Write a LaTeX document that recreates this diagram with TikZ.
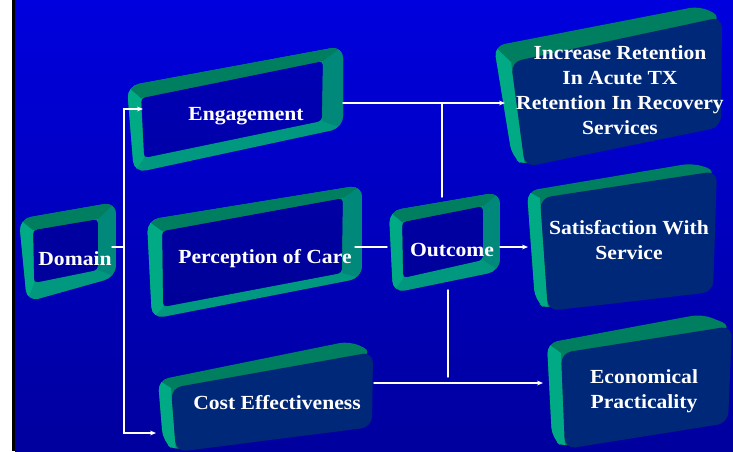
\documentclass[tikz,border=0pt]{standalone}
\usepackage{fontspec}
\setmainfont{Liberation Serif}[FakeStretch=1.08]
\usetikzlibrary{arrows.meta,calc}

\definecolor{bgtop}{RGB}{0,0,222}
\definecolor{bgbot}{RGB}{0,0,158}
\definecolor{rimbase}{RGB}{0,152,126}
\definecolor{rimdark}{RGB}{0,126,96}
\definecolor{rimlight}{RGB}{0,170,132}
\definecolor{rimside}{RGB}{0,136,122}
\definecolor{slabface}{RGB}{0,40,120}

% hollow frame: outer TL, TR, BR, BL, then inner TL, TR, BR, BL
\newcommand{\hollowbox}[8]{%
  \begin{scope}
    \clip[rounded corners=9pt] (#1) -- (#2) -- (#3) -- (#4) -- cycle;
    \fill[rimbase,even odd rule] (#1) -- (#2) -- (#3) -- (#4) -- cycle
      [rounded corners=3pt] (#5) -- (#6) -- (#7) -- (#8) -- cycle;
    \fill[rimside] (#2) -- (#3) -- (#7) -- (#6) -- cycle;
    \fill[rimlight] (#1) -- (#5) -- (#8) -- (#4) -- cycle;
    \fill[rimdark] (#1) -- (#2) -- (#6) -- (#5) -- cycle;
  \end{scope}
  \fill[black,opacity=0.15,rounded corners=3pt] (#5) -- (#6) -- (#7) -- (#8) -- cycle;
}
% solid slab: rim TL, rim TR, then face TL, TR, BR, BL
\newcommand{\slabbox}[6]{%
  \begin{scope}
    \clip[rounded corners=8pt] (#1) -- (#2) -- (#4) -- (#6) -- ($(#6)+(-13,-11)$) -- cycle;
    \fill[rimdark] (#1) -- (#2) -- (#4) -- (#6) -- ($(#6)+(-13,-11)$) -- cycle;
    \fill[rimlight] (#1) -- (#3) -- (#6) -- ($(#6)+(-13,-11)$) -- cycle;
  \end{scope}
  \fill[slabface,rounded corners=8pt] (#3) -- (#4) -- (#5) -- (#6) -- cycle;
}

\begin{document}
\begin{tikzpicture}[x=0.75pt,y=-0.75pt,>={Stealth[length=4.5pt,width=3.6pt]},line cap=round,
  wire/.style={white,line width=1.1pt},
  lbl/.style={text=white,font=\bfseries\fontsize{15}{18.75}\selectfont,align=center,inner sep=0pt}]
\useasboundingbox (0,0) rectangle (733,451);
\fill[white] (0,0) rectangle (12,451);
\fill[black] (12,0) rectangle (15,451);
\shade[top color=bgtop,bottom color=bgbot] (15,0) rectangle (733,451);

\hollowbox{19,219}{116,202}{116,277}{27,302}{33,230}{98,219}{98,270}{34,283}
\hollowbox{127,86}{343,46}{343,128}{134,173}{141,98}{323,61}{322,121}{144,158}
\hollowbox{147,220}{362,185}{362,278}{152,319}{162,231}{343,198}{342,273}{163,307}
\hollowbox{389,211}{500,192}{500,271}{393,293}{402,222}{483,206}{483,260}{403,278}

\slabbox{494,46}{700,6}{511,62}{722,17}{721,127}{525,167}
\slabbox{527,191}{693,163}{540,198}{717,171}{713,292}{548,311}
\slabbox{547,343}{702,314}{561,353}{732,326}{728,423}{565,449}
\slabbox{158,380}{350,341}{171,388}{373,352}{372,427}{176,452}

\node[lbl] (domain) at (75,259) {Domain};
\node[lbl] (engage) at (246,116) {Engagement};
\node[lbl] (percep) at (265,259) {Perception of Care};
\node[lbl] (outcome) at (452,250) {Outcome};
\node[lbl] (retain) at (620,90) {Increase Retention\\In Acute TX\\Retention In Recovery\\Services};
\node[lbl] (satisf) at (629,240) {Satisfaction With\\Service};
\node[lbl] (econ) at (644,391) {Economical\\Practicality};
\node[lbl] (cost) at (277,403) {Cost Effectiveness};

\coordinate (d-out) at (112,247);
\coordinate (d-bus) at (124,247);
\coordinate (e-in) at (143,109);
\coordinate (c-in) at (156,433);
\coordinate (e-out) at (343,103);
\coordinate (r-in) at (505,103);
\coordinate (o-top) at (442,197);
\coordinate (p-out) at (355,247);
\coordinate (o-in) at (387,247);
\coordinate (o-out) at (500,247);
\coordinate (s-in) at (528,247);
\coordinate (o-bot) at (448,290);
\coordinate (o-end) at (448,377);
\coordinate (c-out) at (374,383);
\coordinate (ec-in) at (543,383);

\draw[wire] (d-out) -- (d-bus);
\draw[wire,<->] (e-in) -- (d-bus |- e-in) -- (d-bus |- c-in) -- (c-in);
\draw[wire,->] (e-out) -- (r-in);
\draw[wire] (o-top) -- (o-top |- e-out);
\draw[wire] (p-out) -- (o-in);
\draw[wire,->] (o-out) -- (s-in);
\draw[wire] (o-bot) -- (o-end);
\draw[wire,->] (c-out) -- (ec-in);
\end{tikzpicture}
\end{document}
